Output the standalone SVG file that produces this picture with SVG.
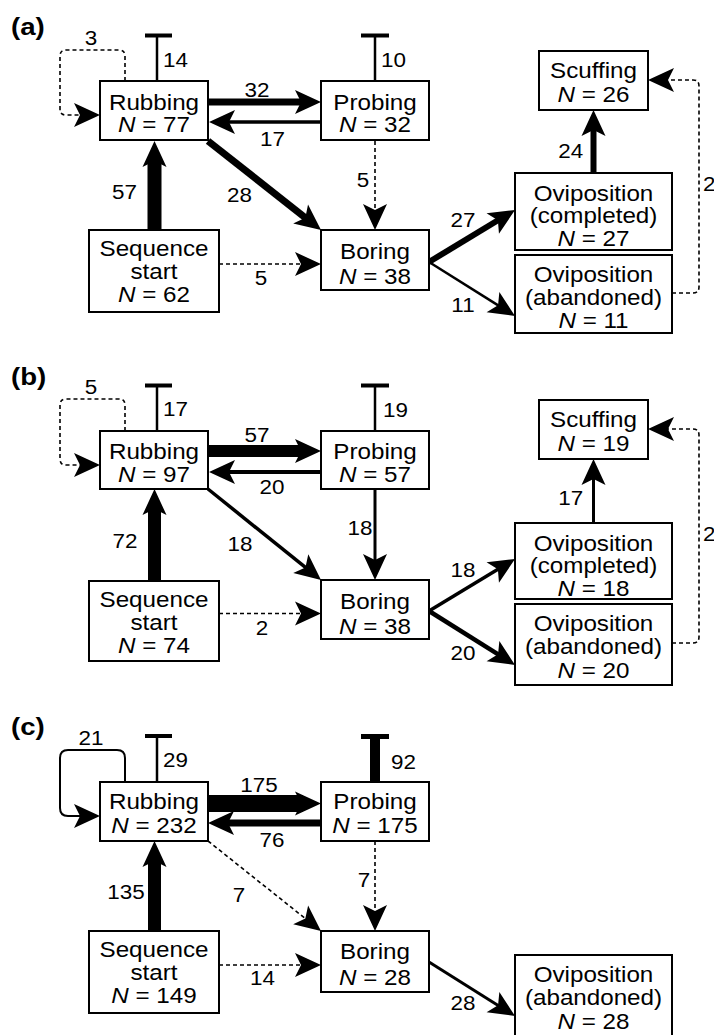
<svg xmlns="http://www.w3.org/2000/svg" width="714" height="1035" viewBox="0 0 714 1035">
<style>
.box{fill:#fff;stroke:#000;stroke-width:2}
.nt{font-family:"Liberation Sans",Arial,sans-serif;font-size:22px;text-anchor:middle;fill:#000}
.lt{font-family:"Liberation Sans",Arial,sans-serif;font-size:19.5px;fill:#000}
.lc{text-anchor:middle}
.pl{font-family:"Liberation Sans",Arial,sans-serif;font-size:23px;font-weight:bold;fill:#000}
.e{fill:none;stroke:#000}
.d{stroke-dasharray:4 3;stroke-width:1.6}
.ah{marker-end:url(#ah)}
.it{font-style:italic}
</style>
<defs>
<marker id="ah" markerUnits="userSpaceOnUse" markerWidth="26" markerHeight="24" viewBox="0 0 26 24" refX="8" refY="12" orient="auto" overflow="visible">
<path d="M0,0 L26,12 L0,24 L6,12 Z" fill="#000"/>
</marker>
</defs>
<rect width="714" height="1035" fill="#fff"/>

<!-- ================= PANEL A ================= -->
<g id="panel-a">
<text class="pl" transform="translate(11,35) scale(1.2,1)">(a)</text>
<g id="a-connectors">
<path class="e" d="M157,81 V35.5" stroke-width="2.5"/>
<path class="e" d="M145,35.5 H172" stroke-width="4"/>
<path class="e d ah" d="M125,81 V56 Q125,50 119,50 H66 Q60,50 60,56 V109 Q60,115 66,115 H82"/>
<path class="e ah" d="M208,102 H303" stroke-width="7"/>
<path class="e ah" d="M321,122 H227" stroke-width="3.3"/>
<path class="e ah" d="M208,141 L306.9,218.9" stroke-width="7"/>
<path class="e ah" d="M154.5,230 V159" stroke-width="14"/>
<path class="e d ah" d="M219,264 H303"/>
<path class="e" d="M375,81 V35.5" stroke-width="2.5"/>
<path class="e" d="M361,35.5 H389" stroke-width="4"/>
<path class="e d ah" d="M375,141 V212"/>
<path class="e ah" d="M429,262 L499.6,219.3" stroke-width="6"/>
<path class="e ah" d="M429,262 L499.75,306.4" stroke-width="2.5"/>
<path class="e ah" d="M593.5,173 V128" stroke-width="6"/>
<path class="e d ah" d="M672,293 H693 Q699,293 699,287 V86 Q699,80 693,80 H666"/>
<text class="lt" transform="translate(163,67) scale(1.15,1)">14</text>
<text class="lt lc" transform="translate(91,45) scale(1.15,1)">3</text>
<text class="lt lc" transform="translate(257,97) scale(1.15,1)">32</text>
<text class="lt lc" transform="translate(272.5,146) scale(1.15,1)">17</text>
<text class="lt lc" transform="translate(239.5,202) scale(1.15,1)">28</text>
<text class="lt lc" transform="translate(124.5,199) scale(1.15,1)">57</text>
<text class="lt lc" transform="translate(261,285) scale(1.15,1)">5</text>
<text class="lt" transform="translate(381,67) scale(1.15,1)">10</text>
<text class="lt lc" transform="translate(363,187) scale(1.15,1)">5</text>
<text class="lt lc" transform="translate(463,227) scale(1.15,1)">27</text>
<text class="lt lc" transform="translate(463,312) scale(1.15,1)">11</text>
<text class="lt lc" transform="translate(570.7,158.3) scale(1.15,1)">24</text>
<text class="lt" transform="translate(703,191) scale(1.15,1)">2</text>
</g>
<g id="a-rubbing">
<rect class="box" x="100" y="81" width="108" height="59"/>
<text class="nt" transform="translate(154,109.5) scale(1.1,1)">Rubbing</text>
<text class="nt" transform="translate(154,132) scale(1.1,1)"><tspan class="it">N</tspan> = 77</text>
</g>
<g id="a-probing">
<rect class="box" x="321" y="81" width="108" height="59"/>
<text class="nt" transform="translate(375,109.5) scale(1.1,1)">Probing</text>
<text class="nt" transform="translate(375,132) scale(1.1,1)"><tspan class="it">N</tspan> = 32</text>
</g>
<g id="a-sequence-start">
<rect class="box" x="89" y="230" width="130" height="82"/>
<text class="nt" transform="translate(154,256) scale(1.1,1)">Sequence</text>
<text class="nt" transform="translate(154,279) scale(1.1,1)">start</text>
<text class="nt" transform="translate(154,302) scale(1.1,1)"><tspan class="it">N</tspan> = 62</text>
</g>
<g id="a-boring">
<rect class="box" x="321" y="230" width="108" height="60"/>
<text class="nt" transform="translate(375,259) scale(1.1,1)">Boring</text>
<text class="nt" transform="translate(375,284) scale(1.1,1)"><tspan class="it">N</tspan> = 38</text>
</g>
<g id="a-scuffing">
<rect class="box" x="539" y="51" width="109" height="59"/>
<text class="nt" transform="translate(593.5,77.5) scale(1.1,1)">Scuffing</text>
<text class="nt" transform="translate(593.5,101.5) scale(1.1,1)"><tspan class="it">N</tspan> = 26</text>
</g>
<g id="a-oviposition-completed">
<rect class="box" x="515" y="173" width="157" height="77"/>
<text class="nt" transform="translate(593.5,200.5) scale(1.1,1)">Oviposition</text>
<text class="nt" transform="translate(593.5,223) scale(1.1,1)">(completed)</text>
<text class="nt" transform="translate(593.5,246) scale(1.1,1)"><tspan class="it">N</tspan> = 27</text>
</g>
<g id="a-oviposition-abandoned">
<rect class="box" x="515" y="255" width="157" height="78"/>
<text class="nt" transform="translate(593.5,281.5) scale(1.1,1)">Oviposition</text>
<text class="nt" transform="translate(593.5,304.5) scale(1.1,1)">(abandoned)</text>
<text class="nt" transform="translate(593.5,328) scale(1.1,1)"><tspan class="it">N</tspan> = 11</text>
</g>
</g>

<!-- ================= PANEL B ================= -->
<g id="panel-b">
<text class="pl" transform="translate(11,385) scale(1.2,1)">(b)</text>
<g id="b-connectors">
<path class="e" d="M157,431 V385.5" stroke-width="2.5"/>
<path class="e" d="M145,385.5 H172" stroke-width="4"/>
<path class="e d ah" d="M125,431 V405 Q125,399 119,399 H66 Q60,399 60,405 V459 Q60,465 66,465 H82"/>
<path class="e ah" d="M208,451 H303" stroke-width="12"/>
<path class="e ah" d="M321,472 H227" stroke-width="4"/>
<path class="e ah" d="M208,489 L307,568.7" stroke-width="3.5"/>
<path class="e ah" d="M154.5,581 V507" stroke-width="13"/>
<path class="e d ah" d="M219,613.5 H303"/>
<path class="e" d="M375,431 V385.5" stroke-width="2.5"/>
<path class="e" d="M361,385.5 H389" stroke-width="4"/>
<path class="e ah" d="M375,489 V562" stroke-width="3"/>
<path class="e ah" d="M429,611 L499.6,568.3" stroke-width="3.5"/>
<path class="e ah" d="M429,611 L499.75,655.4" stroke-width="4.5"/>
<path class="e ah" d="M593.5,523 V477" stroke-width="3"/>
<path class="e d ah" d="M672,643 H693 Q699,643 699,637 V435 Q699,429 693,429 H666"/>
<text class="lt" transform="translate(163,416) scale(1.15,1)">17</text>
<text class="lt lc" transform="translate(91,394) scale(1.15,1)">5</text>
<text class="lt lc" transform="translate(257,442) scale(1.15,1)">57</text>
<text class="lt lc" transform="translate(272,494) scale(1.15,1)">20</text>
<text class="lt lc" transform="translate(240,551) scale(1.15,1)">18</text>
<text class="lt lc" transform="translate(125,548) scale(1.15,1)">72</text>
<text class="lt lc" transform="translate(262,635) scale(1.15,1)">2</text>
<text class="lt" transform="translate(383,416.5) scale(1.15,1)">19</text>
<text class="lt lc" transform="translate(360,535) scale(1.15,1)">18</text>
<text class="lt lc" transform="translate(463,577) scale(1.15,1)">18</text>
<text class="lt lc" transform="translate(463,660) scale(1.15,1)">20</text>
<text class="lt lc" transform="translate(570.7,505) scale(1.15,1)">17</text>
<text class="lt" transform="translate(703,541) scale(1.15,1)">2</text>
</g>
<g id="b-rubbing">
<rect class="box" x="100" y="431" width="108" height="58"/>
<text class="nt" transform="translate(154,458.5) scale(1.1,1)">Rubbing</text>
<text class="nt" transform="translate(154,482) scale(1.1,1)"><tspan class="it">N</tspan> = 97</text>
</g>
<g id="b-probing">
<rect class="box" x="321" y="431" width="108" height="58"/>
<text class="nt" transform="translate(375,458.5) scale(1.1,1)">Probing</text>
<text class="nt" transform="translate(375,482) scale(1.1,1)"><tspan class="it">N</tspan> = 57</text>
</g>
<g id="b-sequence-start">
<rect class="box" x="89" y="581" width="130" height="80"/>
<text class="nt" transform="translate(154,606.5) scale(1.1,1)">Sequence</text>
<text class="nt" transform="translate(154,629.5) scale(1.1,1)">start</text>
<text class="nt" transform="translate(154,652.5) scale(1.1,1)"><tspan class="it">N</tspan> = 74</text>
</g>
<g id="b-boring">
<rect class="box" x="321" y="580" width="108" height="59"/>
<text class="nt" transform="translate(375,608.5) scale(1.1,1)">Boring</text>
<text class="nt" transform="translate(375,633.5) scale(1.1,1)"><tspan class="it">N</tspan> = 38</text>
</g>
<g id="b-scuffing">
<rect class="box" x="539" y="400" width="109" height="59"/>
<text class="nt" transform="translate(593.5,426.5) scale(1.1,1)">Scuffing</text>
<text class="nt" transform="translate(593.5,450.5) scale(1.1,1)"><tspan class="it">N</tspan> = 19</text>
</g>
<g id="b-oviposition-completed">
<rect class="box" x="515" y="523" width="157" height="76"/>
<text class="nt" transform="translate(593.5,550.5) scale(1.1,1)">Oviposition</text>
<text class="nt" transform="translate(593.5,573) scale(1.1,1)">(completed)</text>
<text class="nt" transform="translate(593.5,596) scale(1.1,1)"><tspan class="it">N</tspan> = 18</text>
</g>
<g id="b-oviposition-abandoned">
<rect class="box" x="515" y="604" width="157" height="81"/>
<text class="nt" transform="translate(593.5,631) scale(1.1,1)">Oviposition</text>
<text class="nt" transform="translate(593.5,654) scale(1.1,1)">(abandoned)</text>
<text class="nt" transform="translate(593.5,678) scale(1.1,1)"><tspan class="it">N</tspan> = 20</text>
</g>
</g>

<!-- ================= PANEL C ================= -->
<g id="panel-c">
<text class="pl" transform="translate(11,735) scale(1.2,1)">(c)</text>
<g id="c-connectors">
<path class="e" d="M157,782 V736" stroke-width="2.5"/>
<path class="e" d="M145,736 H172" stroke-width="4"/>
<path class="e ah" d="M125,782 V758 Q125,750 117,750 H68 Q60,750 60,758 V808 Q60,816 68,816 H82" stroke-width="2"/>
<path class="e ah" d="M208,803.5 H303" stroke-width="17"/>
<path class="e ah" d="M321,823 H226" stroke-width="7"/>
<path class="e d ah" d="M208,841 L306.9,919.8"/>
<path class="e ah" d="M154.5,931 V859" stroke-width="13"/>
<path class="e d ah" d="M219,965 H303"/>
<path class="e" d="M375,782 V736.5" stroke-width="10"/>
<path class="e" d="M361,736.5 H389" stroke-width="5"/>
<path class="e d ah" d="M375,841 V913"/>
<path class="e ah" d="M429,962 L499.75,1006.4" stroke-width="3"/>
<text class="lt" transform="translate(163,767) scale(1.15,1)">29</text>
<text class="lt lc" transform="translate(91,745) scale(1.15,1)">21</text>
<text class="lt lc" transform="translate(259,792) scale(1.15,1)">175</text>
<text class="lt lc" transform="translate(272,847) scale(1.15,1)">76</text>
<text class="lt lc" transform="translate(239,902) scale(1.15,1)">7</text>
<text class="lt lc" transform="translate(126,898.5) scale(1.15,1)">135</text>
<text class="lt lc" transform="translate(262.5,985) scale(1.15,1)">14</text>
<text class="lt" transform="translate(391,768.5) scale(1.15,1)">92</text>
<text class="lt lc" transform="translate(364,887) scale(1.15,1)">7</text>
<text class="lt lc" transform="translate(463,1010) scale(1.15,1)">28</text>
</g>
<g id="c-rubbing">
<rect class="box" x="100" y="782" width="108" height="59"/>
<text class="nt" transform="translate(154,808.5) scale(1.1,1)">Rubbing</text>
<text class="nt" transform="translate(154,833) scale(1.1,1)"><tspan class="it">N</tspan> = 232</text>
</g>
<g id="c-probing">
<rect class="box" x="321" y="782" width="108" height="59"/>
<text class="nt" transform="translate(375,808.5) scale(1.1,1)">Probing</text>
<text class="nt" transform="translate(375,833) scale(1.1,1)"><tspan class="it">N</tspan> = 175</text>
</g>
<g id="c-sequence-start">
<rect class="box" x="89" y="931" width="130" height="82"/>
<text class="nt" transform="translate(154,956.5) scale(1.1,1)">Sequence</text>
<text class="nt" transform="translate(154,979.5) scale(1.1,1)">start</text>
<text class="nt" transform="translate(154,1003) scale(1.1,1)"><tspan class="it">N</tspan> = 149</text>
</g>
<g id="c-boring">
<rect class="box" x="321" y="931" width="108" height="61"/>
<text class="nt" transform="translate(375,958.5) scale(1.1,1)">Boring</text>
<text class="nt" transform="translate(375,985) scale(1.1,1)"><tspan class="it">N</tspan> = 28</text>
</g>
<g id="c-oviposition-abandoned">
<rect class="box" x="515" y="955" width="157" height="95"/>
<text class="nt" transform="translate(593.5,982) scale(1.1,1)">Oviposition</text>
<text class="nt" transform="translate(593.5,1005) scale(1.1,1)">(abandoned)</text>
<text class="nt" transform="translate(593.5,1029) scale(1.1,1)"><tspan class="it">N</tspan> = 28</text>
</g>
</g>
</svg>
